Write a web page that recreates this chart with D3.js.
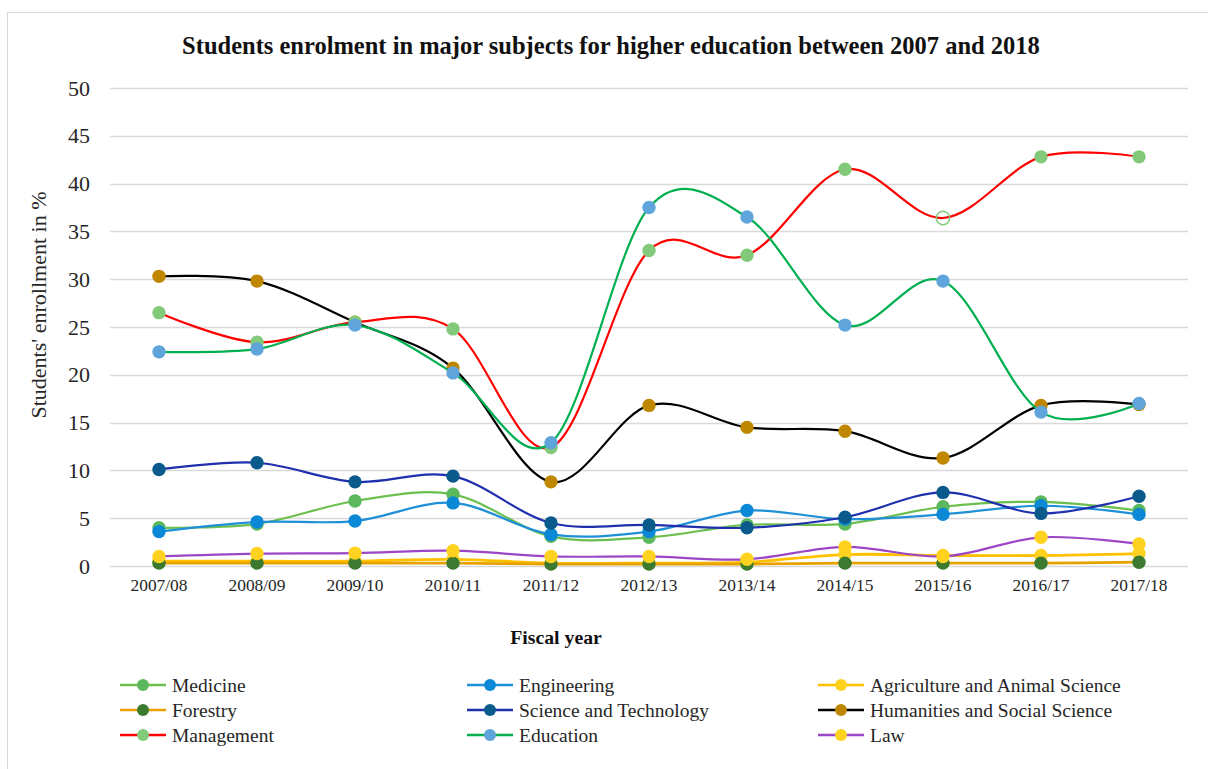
<!DOCTYPE html>
<html>
<head>
<meta charset="utf-8">
<script src="https://cdn.jsdelivr.net/npm/d3@7"></script>
<style>
  html, body { margin: 0; padding: 0; background: #fff; }
  svg { display: block; }
  svg text { font-family: "Liberation Serif", "Times New Roman", "DejaVu Serif", serif; }
</style>
</head>
<body>
<svg id="chart" width="1208" height="769"></svg>
<script>
// ---- DATA ----
const years = ["2007/08","2008/09","2009/10","2010/11","2011/12","2012/13","2013/14","2014/15","2015/16","2016/17","2017/18"];
const yTicks = [0,5,10,15,20,25,30,35,40,45,50];

const medicine    = [4.0, 4.4, 6.8, 7.5, 3.1, 3.0, 4.3, 4.4, 6.2, 6.7, 5.8];
const engineering = [3.6, 4.6, 4.7, 6.6, 3.3, 3.6, 5.8, 4.9, 5.4, 6.3, 5.4];
const agriculture = [0.5, 0.5, 0.5, 0.7, 0.3, 0.3, 0.4, 1.2, 1.1, 1.1, 1.3];
const forestry    = [0.3, 0.3, 0.3, 0.3, 0.2, 0.2, 0.2, 0.3, 0.3, 0.3, 0.4];
const sciTech     = [10.1, 10.8, 8.8, 9.4, 4.5, 4.3, 4.0, 5.1, 7.7, 5.5, 7.3];
const humanities  = [30.3, 29.8, 25.5, 20.7, 8.8, 16.8, 14.5, 14.1, 11.3, 16.8, 16.9];
const management  = [26.5, 23.4, 25.5, 24.8, 12.4, 33.0, 32.5, 41.5, 36.4, 42.8, 42.8];
const education   = [22.4, 22.7, 25.2, 20.2, 12.9, 37.5, 36.5, 25.2, 29.8, 16.1, 17.0];
const law         = [1.0, 1.3, 1.35, 1.6, 1.0, 1.0, 0.7, 2.0, 1.0, 3.0, 2.3];

const seriesNames = ["Medicine","Engineering","Agriculture and Animal Science","Forestry","Science and Technology","Humanities and Social Science","Management","Education","Law"];
const seriesValues = [medicine, engineering, agriculture, forestry, sciTech, humanities, management, education, law];
const lineColors   = ["#6cbf4e","#1f8fd6","#ffc000","#e8a200","#1f2fae","#000000","#ff0000","#00b050","#9b46c6"];
const markerColors = ["#5cb85c","#0b88d6","#ffd21f","#3b7a2f","#0b5a8c","#bf8600","#82c979","#5fa5dc","#ffd21f"];
// hollow marker: Management 2015/16
const hollowPoints = [{series: "Management", year: "2015/16"}];

const title = "Students enrolment in major subjects for higher education between 2007 and 2018";
const xTitle = "Fiscal year";
const yTitle = "Students' enrollment in %";

// ---- LAYOUT ----
const FONT = '"Liberation Serif", "Times New Roman", "DejaVu Serif", serif';
const svg = d3.select("#chart");
const m = {left: 110, right: 1188, top: 88, bottom: 566};

svg.append("rect").attr("x", 7.5).attr("y", 12.5).attr("width", 1215).attr("height", 770)
  .attr("fill", "#fff").attr("stroke", "#d9d9d9").attr("stroke-width", 1);

const x = d3.scaleBand().domain(years).range([m.left, m.right]);
const y = d3.scaleLinear().domain([0, 50]).range([m.bottom, m.top]);
const cx = d => x(d) + x.bandwidth() / 2;

// gridlines
svg.append("g").selectAll("line").data(yTicks).join("line")
  .attr("x1", m.left).attr("x2", m.right)
  .attr("y1", d => Math.round(y(d)) + 0.5).attr("y2", d => Math.round(y(d)) + 0.5)
  .attr("stroke", "#d9d9d9").attr("stroke-width", 1.3);

// y axis
const yAxis = svg.append("g").attr("transform", `translate(${m.left - 20},0)`)
  .call(d3.axisLeft(y).tickValues(yTicks).tickSize(0).tickPadding(0));
yAxis.select(".domain").remove();
yAxis.attr("font-family", FONT);
yAxis.selectAll("text").attr("font-size", 22).attr("fill", "#262626").attr("font-family", FONT);

// x axis
const xAxis = svg.append("g").attr("transform", `translate(0,${m.bottom})`)
  .call(d3.axisBottom(x).tickSize(0).tickPadding(13));
xAxis.select(".domain").remove();
xAxis.attr("font-family", FONT);
xAxis.selectAll("text").attr("font-size", 17.4).attr("fill", "#262626").attr("font-family", FONT);

// titles
svg.append("text").attr("x", 611).attr("y", 54).attr("text-anchor", "middle")
  .attr("font-family", FONT).attr("font-size", 24.5).attr("font-weight", "bold").attr("fill", "#111").text(title);
svg.append("text").attr("x", 556).attr("y", 644).attr("text-anchor", "middle")
  .attr("font-family", FONT).attr("font-size", 19.8).attr("font-weight", "bold").attr("fill", "#111").text(xTitle);
svg.append("text").attr("transform", "translate(46,305) rotate(-90)").attr("text-anchor", "middle")
  .attr("font-family", FONT).attr("font-size", 22).attr("fill", "#262626").text(yTitle);

// series
const line = d3.line().x(d => cx(d.year)).y(d => y(d.value)).curve(d3.curveCardinal.tension(0));
seriesNames.forEach((name, i) => {
  const pts = years.map((yr, j) => ({year: yr, value: seriesValues[i][j]}));
  const g = svg.append("g");
  g.append("path").datum(pts).attr("d", line).attr("fill", "none")
    .attr("stroke", lineColors[i]).attr("stroke-width", i === 2 || i === 3 ? 2.8 : 2.2);
  g.selectAll("circle").data(pts).join("circle")
    .attr("cx", d => cx(d.year)).attr("cy", d => y(d.value)).attr("r", 6.7)
    .each(function(d) {
      const hollow = hollowPoints.some(h => h.series === name && h.year === d.year);
      d3.select(this)
        .attr("fill", hollow ? "none" : markerColors[i])
        .attr("stroke", hollow ? markerColors[i] : "none")
        .attr("stroke-width", hollow ? 1.5 : 0);
    });
});

// legend
const legX = [120, 467, 818];
const legY = [685, 710, 735];
const leg = svg.append("g");
seriesNames.forEach((name, i) => {
  const col = i % 3, row = Math.floor(i / 3);
  const g = leg.append("g").attr("transform", `translate(${legX[col]},${legY[row]})`);
  g.append("line").attr("x1", 0).attr("x2", 46).attr("y1", 0).attr("y2", 0)
    .attr("stroke", lineColors[i]).attr("stroke-width", 2.5);
  g.append("circle").attr("cx", 23).attr("cy", 0).attr("r", 6).attr("fill", markerColors[i]);
  g.append("text").attr("x", 52).attr("y", 6.5).attr("font-family", FONT)
    .attr("font-size", 19.5).attr("fill", "#262626").text(name);
});
</script>
</body>
</html>
